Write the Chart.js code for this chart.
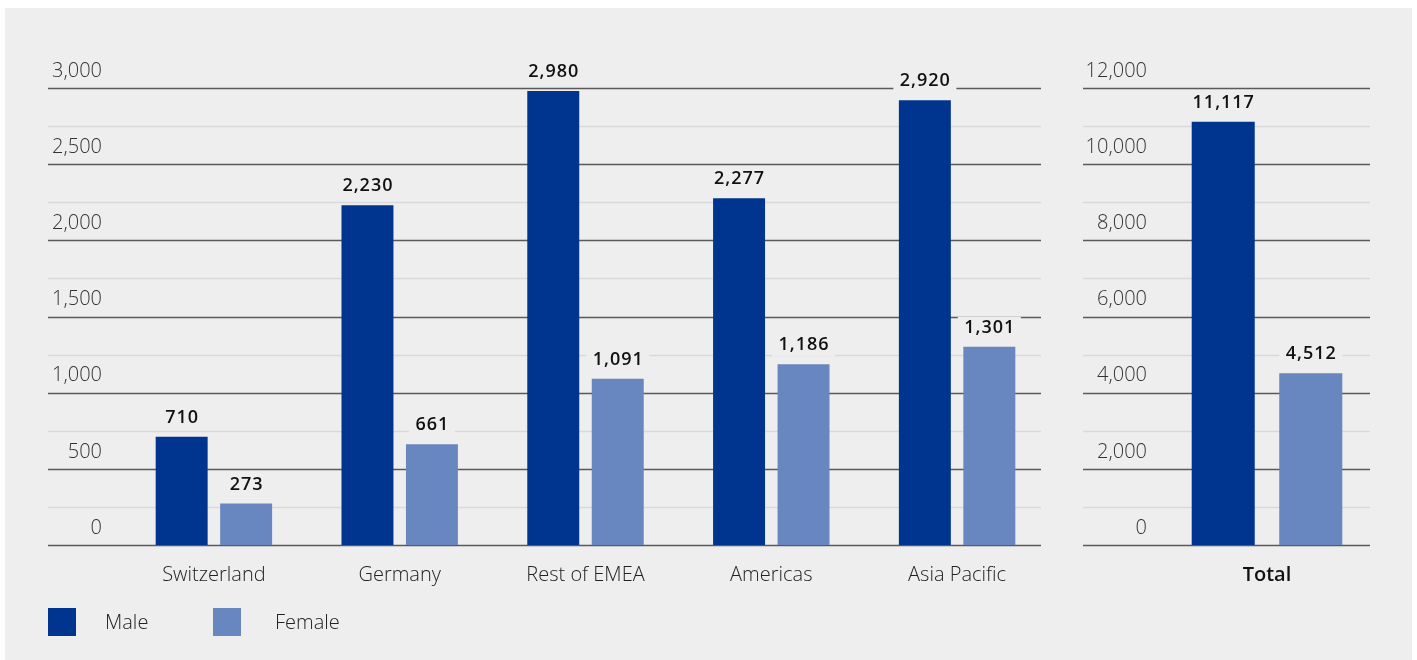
<!DOCTYPE html>
<html>
<head>
<meta charset="utf-8">
<script src="https://cdn.jsdelivr.net/npm/chart.js@4.4.1/dist/chart.umd.min.js"></script>
<style>
  html, body { margin: 0; padding: 0; background: #fff; }
  body { width: 1417px; height: 660px; position: relative; overflow: hidden; font-family: "Open Sans", sans-serif; }
  #panel { position: absolute; left: 5px; top: 8px; width: 1407px; height: 652px; background: #eeeeee; }
  #regionWrap { position: absolute; left: 0; top: 0; width: 1062px; height: 660px; }
  #totalWrap { position: absolute; left: 1062px; top: 0; width: 355px; height: 660px; }
  .legend { position: absolute; top: 608px; left: 0; font-size: 20px; font-weight: 300; color: #222; }
  .legend .sw { position: absolute; top: 0; width: 28px; height: 28px; }
  .legend .lb { position: absolute; top: 0; line-height: 28px; white-space: nowrap; }
</style>
</head>
<body>
<div id="panel"></div>
<div id="regionWrap"><canvas id="regionChart"></canvas></div>
<div id="totalWrap"><canvas id="totalChart"></canvas></div>
<div class="legend">
  <div class="sw" style="left:48px;background:#00358f"></div><div class="lb" style="left:105px">Male</div>
  <div class="sw" style="left:213px;background:#6886bf"></div><div class="lb" style="left:275px">Female</div>
</div>
<script>
const regions = ['Switzerland', 'Germany', 'Rest of EMEA', 'Americas', 'Asia Pacific'];
const maleByRegion = [710, 2230, 2980, 2277, 2920];
const femaleByRegion = [273, 661, 1091, 1186, 1301];

const totalLabel = ['Total'];
const maleTotal = [11117];
const femaleTotal = [4512];

const MALE = '#00358f';
const FEMALE = '#6886bf';
const BG = '#eeeeee';
const FONT = '"Open Sans"';

const fmt = v => v.toLocaleString('en-US');

// horizontal rules: dark at each tick, light halfway between
const rulesPlugin = {
    id: 'rules',
    beforeDatasetsDraw(chart, args, opts) {
        const y = chart.scales.y;
        const ctx = chart.ctx;
        const ticks = y.ticks;
        const step = ticks[1].value - ticks[0].value;
        ctx.save();
        ticks.forEach(t => {
            const half = t.value + step / 2;
            if (half < y.max) {
                const py = Math.round(y.getPixelForValue(half)) + 0.5;
                ctx.strokeStyle = '#d9d9d9';
                ctx.lineWidth = 1.5;
                ctx.beginPath(); ctx.moveTo(opts.x0, py); ctx.lineTo(opts.x1, py); ctx.stroke();
            }
            const py = Math.round(y.getPixelForValue(t.value)) + 0.5;
            ctx.strokeStyle = '#5a5a5a';
            ctx.lineWidth = 1.5;
            ctx.beginPath(); ctx.moveTo(opts.x0, py); ctx.lineTo(opts.x1, py); ctx.stroke();
        });
        ctx.restore();
    }
};

// value labels on top of each bar, with a background patch over the rules
const valuePlugin = {
    id: 'values',
    afterDatasetsDraw(chart) {
        const ctx = chart.ctx;
        ctx.save();
        ctx.font = '600 18px ' + FONT;
        ctx.letterSpacing = '1px';
        ctx.textAlign = 'center';
        ctx.textBaseline = 'middle';
        chart.data.datasets.forEach((ds, i) => {
            chart.getDatasetMeta(i).data.forEach((bar, j) => {
                const txt = fmt(ds.data[j]);
                const w = ctx.measureText(txt).width;
                const cy = bar.y - 19;
                ctx.fillStyle = BG;
                ctx.fillRect(bar.x - w / 2 - 6, cy - 11, w + 12, 22);
                ctx.fillStyle = '#111';
                ctx.fillText(txt, bar.x + 0.5, cy);
            });
        });
        ctx.restore();
    }
};

function makeChart(id, labels, male, female, cfg) {
    return new Chart(document.getElementById(id), {
        type: 'bar',
        data: {
            labels: labels,
            datasets: [
                { label: 'Male', data: male, backgroundColor: MALE },
                { label: 'Female', data: female, backgroundColor: FEMALE }
            ]
        },
        options: {
            responsive: true,
            maintainAspectRatio: false,
            animation: false,
            categoryPercentage: cfg.cat,
            barPercentage: cfg.bar,
            layout: { padding: { left: 0, top: 88, right: cfg.padRight, bottom: 55 } },
            plugins: {
                legend: { display: false },
                tooltip: { enabled: false },
                rules: { x0: cfg.x0, x1: cfg.x1 }
            },
            scales: {
                x: {
                    grid: { display: false, drawTicks: false },
                    border: { display: false },
                    ticks: {
                        color: cfg.xBold ? '#111' : '#222',
                        font: { family: FONT, size: 20, weight: cfg.xBold ? '600' : '300' },
                        padding: 18
                    },
                    afterFit(s) { s.height = 60; }
                },
                y: {
                    min: 0,
                    max: cfg.max,
                    grid: { display: false, drawTicks: false },
                    border: { display: false },
                    ticks: {
                        stepSize: cfg.step,
                        color: '#333',
                        font: { family: FONT, size: 20, weight: '300' },
                        padding: cfg.labelPad,
                        labelOffset: -17,
                        callback: v => fmt(v)
                    },
                    afterFit(s) { s.width = cfg.axisWidth; }
                }
            }
        },
        plugins: [rulesPlugin, valuePlugin]
    });
}

makeChart('regionChart', regions, maleByRegion, femaleByRegion, {
    max: 3000, step: 500, cat: 0.694, bar: 0.806,
    padRight: 12, axisWidth: 121, labelPad: 19, x0: 48, x1: 1041, xBold: false
});

makeChart('totalChart', totalLabel, maleTotal, femaleTotal, {
    max: 12000, step: 2000, cat: 0.85, bar: 0.72,
    padRight: 47, axisWidth: 102, labelPad: 17, x0: 21, x1: 308, xBold: true
});
</script>
</body>
</html>
